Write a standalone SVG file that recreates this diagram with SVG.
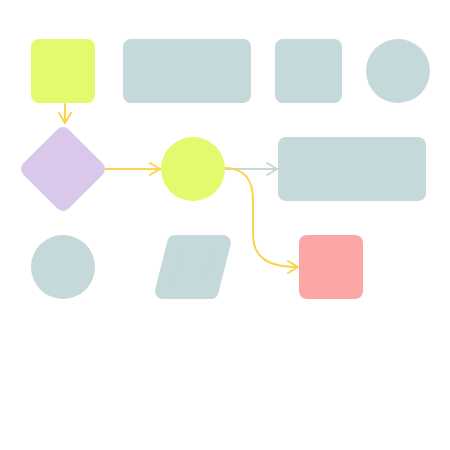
<svg xmlns="http://www.w3.org/2000/svg" width="450" height="450" viewBox="0 0 450 450">
<style>
.g{fill:#C5D8DA}
.y{fill:#E2FB6E}
.e{fill:none;stroke-width:2;stroke-linecap:round;stroke-linejoin:round}
.ey{stroke:#FCD34D}
.eg{stroke:#C5D8DA}
</style>
<defs>
<marker id="ay" viewBox="0 0 12 14" refX="11" refY="7" markerWidth="12" markerHeight="14" markerUnits="userSpaceOnUse" orient="auto">
<path d="M1,1 L11,7 L1,13" fill="none" stroke="#FCD34D" stroke-width="2" stroke-linecap="round" stroke-linejoin="round"/>
</marker>
<marker id="ag" viewBox="0 0 12 14" refX="11" refY="7" markerWidth="12" markerHeight="14" markerUnits="userSpaceOnUse" orient="auto">
<path d="M1,1 L11,7 L1,13" fill="none" stroke="#C5D8DA" stroke-width="2" stroke-linecap="round" stroke-linejoin="round"/>
</marker>
</defs>
<rect width="450" height="450" fill="#fff"/>
<g id="connectors">
<path class="e ey" d="M65,104 L65,123" marker-end="url(#ay)"/>
<path class="e ey" d="M105,169 L160,169" marker-end="url(#ay)"/>
<path class="e eg" d="M225,169 L277,169" marker-end="url(#ag)"/>
<path class="e ey" d="M225,168 C244,168 253,180 253,200 L253,235 C253,256 266,267 298,267" marker-end="url(#ay)"/>
</g>
<g id="n1"><rect class="y" x="31" y="39" width="64" height="64" rx="8"/></g>
<g id="n2"><rect class="g" x="123" y="39" width="128" height="64" rx="8"/></g>
<g id="n3"><rect class="g" x="275" y="39" width="67" height="64" rx="8"/></g>
<g id="n4"><circle class="g" cx="398" cy="71" r="32"/></g>
<g id="n5"><rect x="-32" y="-32" width="64" height="64" rx="8" fill="#D9C8EC" transform="translate(63,169) rotate(45)"/></g>
<g id="n6"><circle class="y" cx="193" cy="169" r="32"/></g>
<g id="n7"><rect class="g" x="278" y="137" width="148" height="64" rx="8"/></g>
<g id="n8"><circle class="g" cx="63" cy="267" r="32"/></g>
<g id="n9"><polygon class="g" points="175.2,243 222.8,243 210.6,291 163,291" stroke="#C5D8DA" stroke-width="16" stroke-linejoin="round"/></g>
<g id="n10"><rect x="299" y="235" width="64" height="64" rx="8" fill="#FBA6A6"/></g>
</svg>
